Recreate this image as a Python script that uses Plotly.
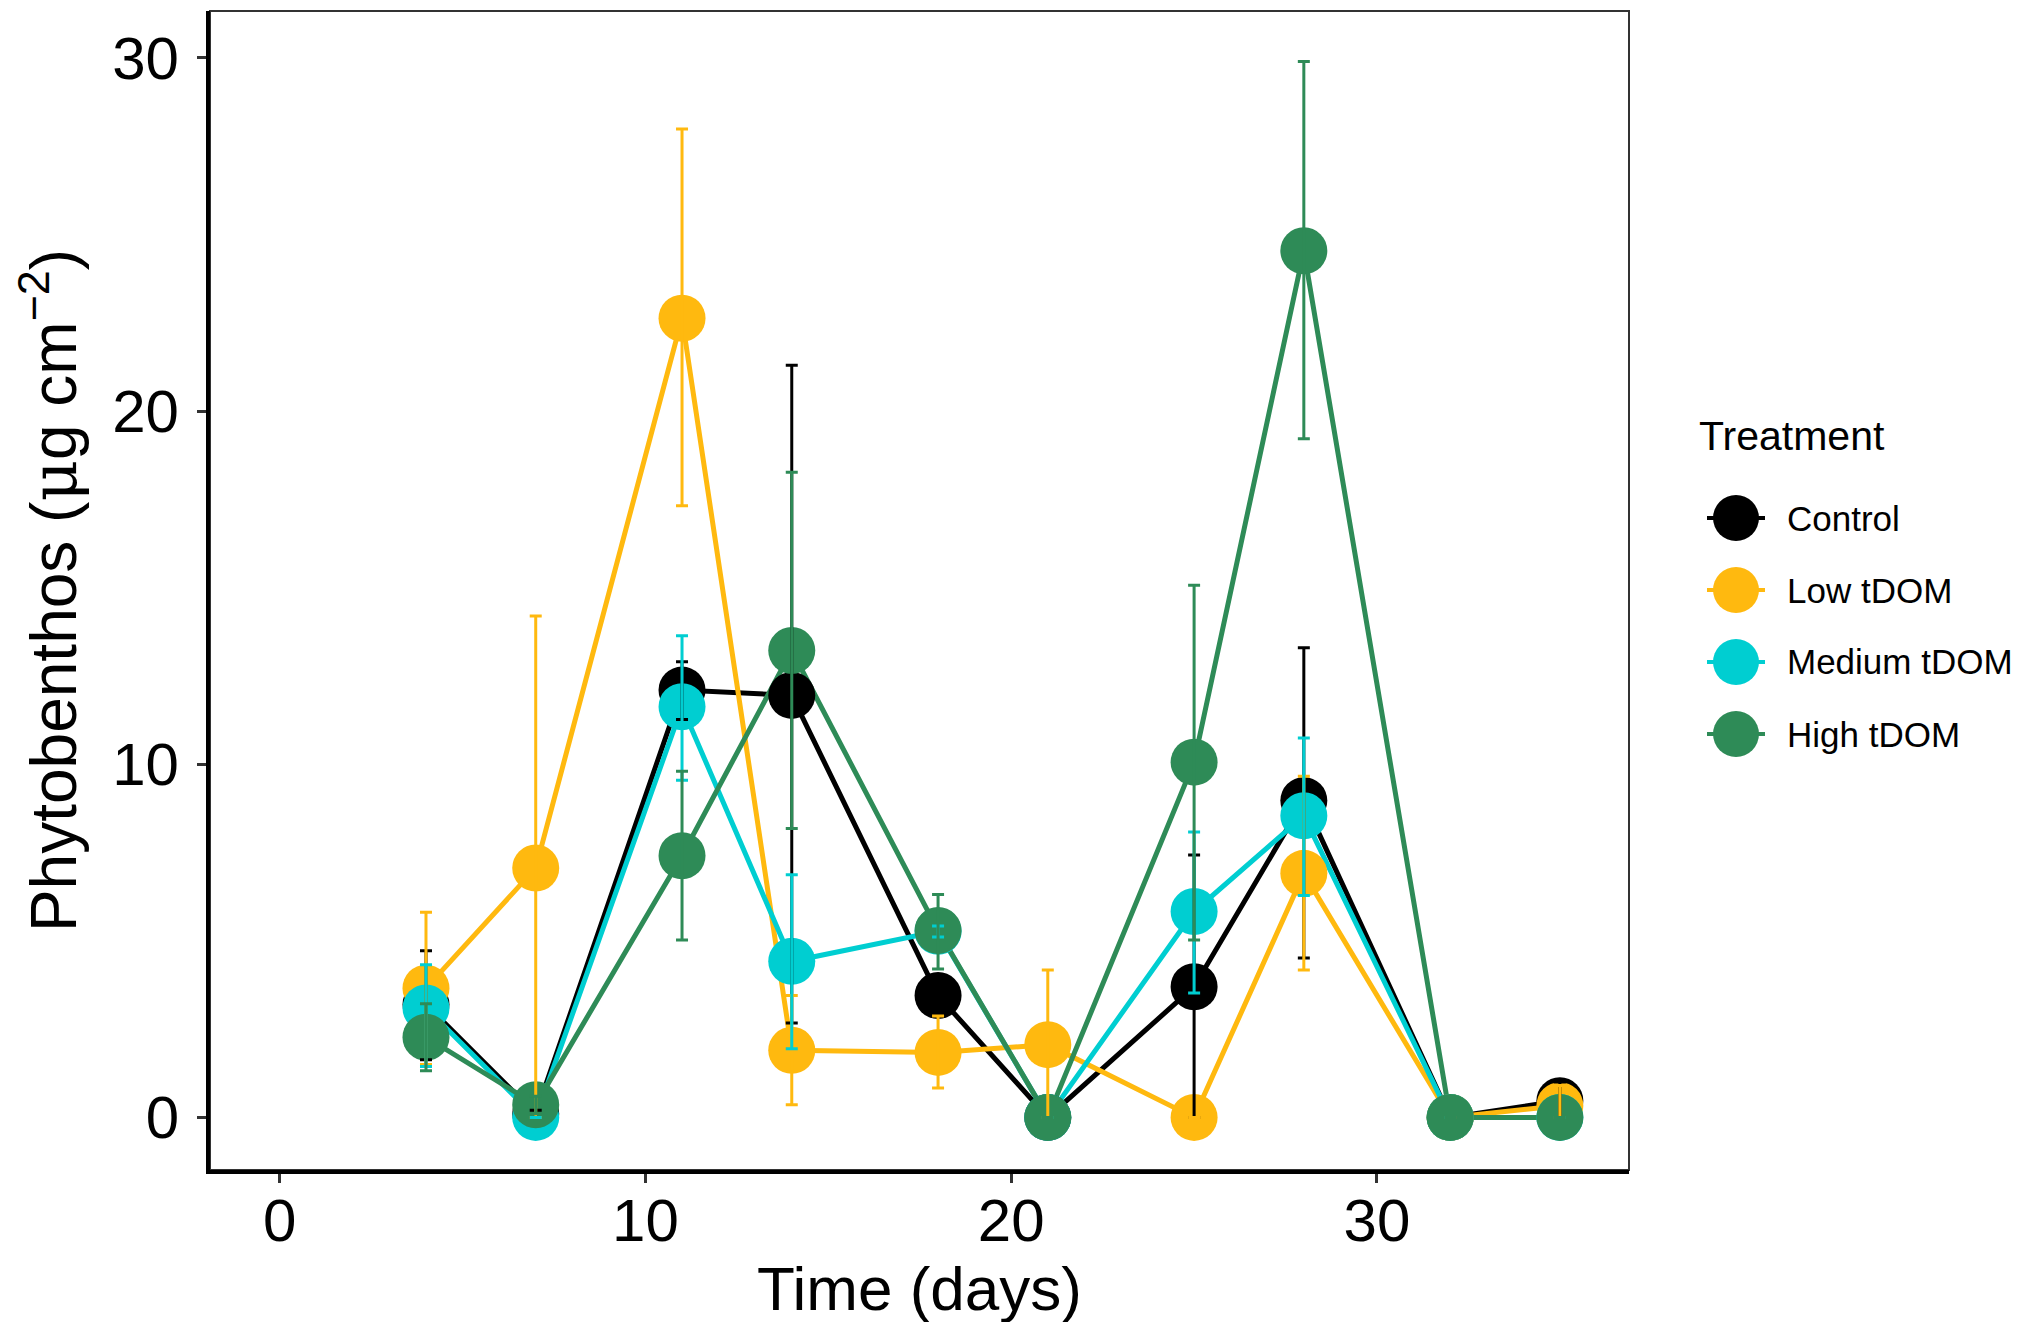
import plotly.graph_objects as go

# sampling days
days = [4, 7, 11, 14, 18, 21, 25, 28, 32, 35]

treatments = ["Control", "Low tDOM", "Medium tDOM", "High tDOM"]
colours = ["#000000", "#FFB90F", "#00CED1", "#2E8B57"]

# means and upper / lower ends of the error bars
control_mean = [3.2, 0.1, 12.1, 11.95, 3.45, 0, 3.7, 8.97, 0, 0.47]
control_hi = [4.72, 0.2, 12.9, 21.3, 3.8, 0, 7.43, 13.3, 0, 1.0]
control_lo = [1.63, 0.0, 11.27, 2.67, 3.1, 0, 0.0, 4.51, 0, 0.0]

low_mean = [3.66, 7.06, 22.63, 1.9, 1.84, 2.06, 0, 6.91, 0, 0.33]
low_hi = [5.81, 14.2, 27.99, 3.45, 2.87, 4.17, 0, 9.66, 0, 0.9]
low_lo = [1.5, 0.0, 17.32, 0.36, 0.83, 0.0, 0, 4.17, 0, 0.0]

med_mean = [3.1, 0, 11.63, 4.42, 5.27, 0, 5.83, 8.54, 0, 0]
med_hi = [4.32, 0, 13.64, 6.87, 5.42, 0, 8.08, 10.74, 0, 0]
med_lo = [1.44, 0, 9.55, 1.94, 5.11, 0, 3.52, 6.28, 0, 0]

high_mean = [2.27, 0.36, 7.41, 13.22, 5.29, 0, 10.06, 24.54, 0, 0]
high_hi = [3.22, 0.6, 9.8, 18.27, 6.31, 0, 15.07, 29.9, 0, 0]
high_lo = [1.32, 0.1, 5.02, 8.18, 4.2, 0, 5.02, 19.22, 0, 0]

means = [control_mean, low_mean, med_mean, high_mean]
his = [control_hi, low_hi, med_hi, high_hi]
los = [control_lo, low_lo, med_lo, high_lo]

FONT = "Liberation Sans, Arial, sans-serif"
W, H = 2029, 1322
L, R, T, B = 202, 1621, 3, 1162  # plot panel in pixels

fig = go.Figure()

# lines first, then points, then error bars (ggplot layer order)
for name, col, m in zip(treatments, colours, means):
    fig.add_trace(go.Scatter(x=days, y=m, mode='lines', line=dict(color=col, width=5),
                             showlegend=False, hoverinfo='skip'))
for name, col, m in zip(treatments, colours, means):
    fig.add_trace(go.Scatter(x=days, y=m, mode='markers', name=name,
                             marker=dict(color=col, size=47), showlegend=False))
for name, col, m, hi, lo in zip(treatments, colours, means, his, los):
    fig.add_trace(go.Scatter(x=days, y=m, mode='markers', showlegend=False,
                             marker=dict(color='rgba(0,0,0,0)', size=1),
                             error_y=dict(type='data', symmetric=False,
                                          array=[h - v for h, v in zip(hi, m)],
                                          arrayminus=[v - l for v, l in zip(m, lo)],
                                          color=col, thickness=3, width=6)))

fig.update_layout(
    width=W, height=H,
    margin=dict(l=L, r=W - R, t=T, b=H - B),
    plot_bgcolor='white', paper_bgcolor='white',
    font=dict(family=FONT, color='black'),
    showlegend=False,
)
fig.update_xaxes(range=[-1.905, 36.89], tickvals=[0, 10, 20, 30], showgrid=False, zeroline=False,
                 showline=True, linecolor='black', linewidth=4, ticks='outside', ticklen=9,
                 tickwidth=3, tickcolor='#333333', tickfont=dict(size=60, color='black'),
                 ticklabelstandoff=-14,
                 title=dict(text='Time (days)', font=dict(size=62), standoff=0))
fig.update_yaxes(range=[-1.49, 31.33], tickvals=[0, 10, 20, 30], showgrid=False, zeroline=False,
                 showline=True, linecolor='black', linewidth=4, ticks='outside', ticklen=9,
                 tickwidth=3, tickcolor='#333333', tickfont=dict(size=60, color='black'),
                 ticklabelstandoff=6,
                 title=dict(text='Phytobenthos (<span style="font-family:\'DejaVu Serif\'">μ</span>g cm<sup>−2</sup>)',
                            font=dict(size=64), standoff=20))

# thin panel border
fig.add_shape(type='rect', xref='paper', yref='paper', x0=0, y0=0, x1=1, y1=1,
              line=dict(color='#333333', width=2), layer='below')


def px_x(p):
    return (p - L) / (R - L)


def px_y(p):
    return (B - p) / (B - T)


# legend drawn by hand so the keys keep the size of the points
fig.add_annotation(text='Treatment', xref='paper', yref='paper', x=px_x(1689), y=px_y(428),
                   xanchor='left', yanchor='middle', showarrow=False, font=dict(size=41))
key_y = [510, 582, 654, 726]
for name, col, ky in zip(treatments, colours, key_y):
    fig.add_shape(type='line', xref='paper', yref='paper', xsizemode='pixel', ysizemode='pixel',
                  xanchor=px_x(1728), yanchor=px_y(ky), x0=-29, x1=29, y0=0, y1=0,
                  line=dict(color=col, width=4))
    fig.add_shape(type='circle', xref='paper', yref='paper', xsizemode='pixel', ysizemode='pixel',
                  xanchor=px_x(1728), yanchor=px_y(ky), x0=-23, x1=23, y0=-23, y1=23,
                  fillcolor=col, line=dict(width=0))
    fig.add_annotation(text=name, xref='paper', yref='paper', x=px_x(1777), y=px_y(ky),
                       xanchor='left', yanchor='middle', showarrow=False, font=dict(size=35))

fig.write_html("out.html")
